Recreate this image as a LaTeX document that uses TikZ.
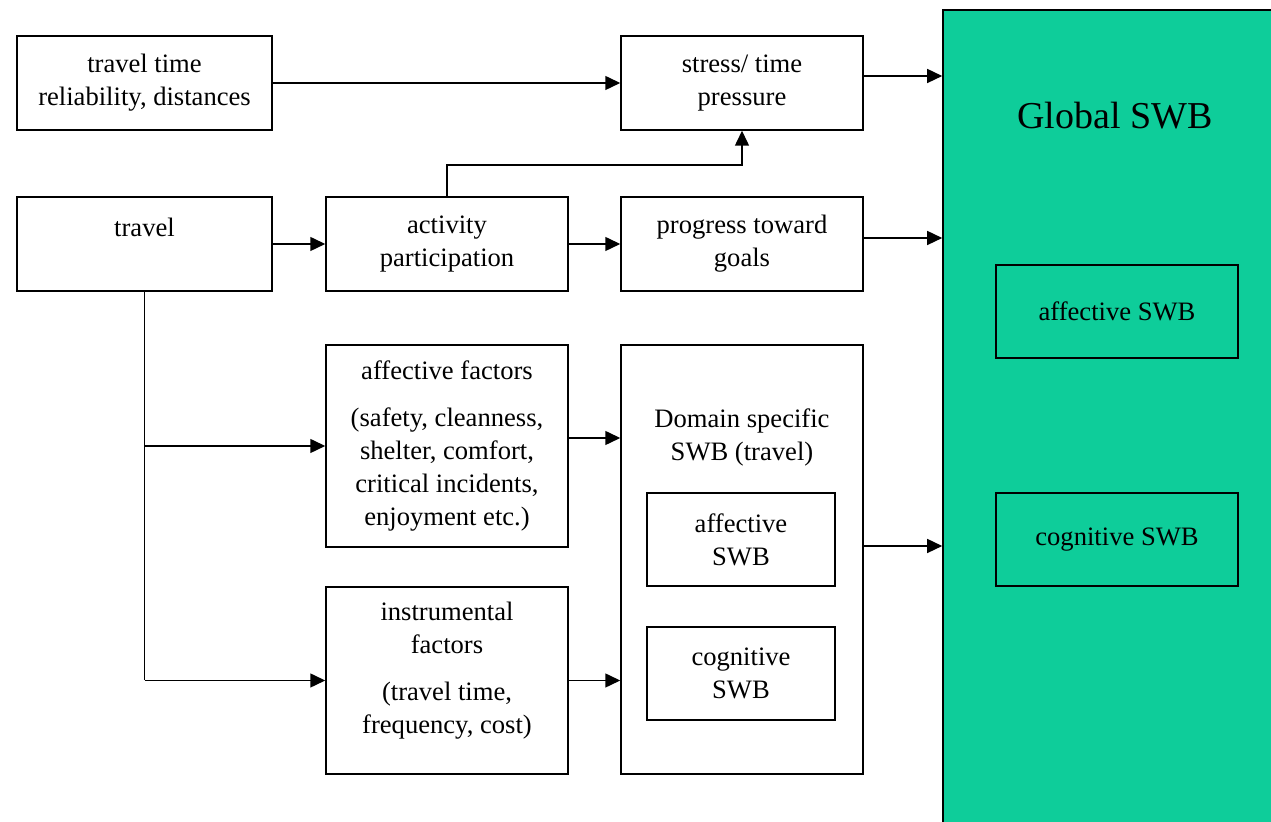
\documentclass[tikz,border=0pt]{standalone}
\usepackage{fontspec}
\setmainfont{Liberation Serif}
\usetikzlibrary{arrows.meta,positioning}
\definecolor{swbgreen}{RGB}{14,205,154}

\begin{document}
\begin{tikzpicture}[x=0.5pt,y=-0.5pt,
    box/.style={draw, line width=0.75pt, align=center, inner sep=0pt,
      font=\fontsize{13.3}{16.5}\selectfont},
    arr/.style={-{Triangle[length=7.5pt,width=7pt]}, line width=0.75pt}]
    \clip (0,0) rectangle (1271,822);
    % global box, runs off the page
    \node[draw, line width=0.8pt, fill=swbgreen, minimum width=178.5pt,
      minimum height=420pt, inner sep=0pt] (glob) at (1121.5,430) {};
    \node[font=\fontsize{19}{22}\selectfont] (globtxt) at (1115,116) {Global SWB};
    \node[box, minimum width=121pt, minimum height=46.5pt] (gaff) at (1117,311.5) {affective SWB};
    \node[box, minimum width=121pt, minimum height=46.5pt] (gcog) at (1117,539.5) {cognitive SWB};

    % left column
    \node[box, minimum width=127.5pt, minimum height=47pt] (ttr) at (144.5,83)
      {travel time\\reliability, distances};
    \node[box, minimum width=127.5pt, minimum height=47pt] (trav) at (144.5,244)
      {travel\\\phantom{x}};

    % middle column
    \node[box, minimum width=121pt, minimum height=47pt] (act) at (447,244)
      {activity\\participation};
    \node[box, minimum width=121pt, minimum height=101pt] (aff) at (447,446)
      {affective factors\\[7pt](safety, cleanness,\\shelter, comfort,\\critical incidents,\\enjoyment etc.)};
    \node[box, minimum width=121pt, minimum height=93.5pt] (inst) at (447,680.5)
      {instrumental\\factors\\[7pt](travel time,\\frequency, cost)\\[-4pt]\phantom{x}};

    % right column
    \node[box, minimum width=121pt, minimum height=47pt] (stress) at (742,83)
      {stress/ time\\pressure};
    \node[box, minimum width=121pt, minimum height=47pt] (prog) at (742,244)
      {progress toward\\goals};
    \node[box, minimum width=121pt, minimum height=214.5pt] (dom) at (742,559.5) {};
    \node[align=center, font=\fontsize{13.3}{16.5}\selectfont] (domtxt) at (742,437)
      {Domain specific\\SWB (travel)};
    \node[box, minimum width=94pt, minimum height=46.5pt] (daff) at (741,539.5)
      {affective\\SWB};
    \node[box, minimum width=94pt, minimum height=46.5pt] (dcog) at (741,673.5)
      {cognitive\\SWB};

    % connectors
    \draw[arr] (ttr) -- (stress);
    \draw[arr] (trav) -- (act);
    \draw[arr] (act) -- (prog);
    \draw[arr] (act.north) -- ++(0,-31) -| (stress.south);
    \draw[line width=0.75pt] (trav.south) -- (trav.south |- inst.west);
    \draw[arr] (trav.south |- aff.west) -- (aff.west);
    \draw[arr] (trav.south |- inst.west) -- (inst.west);
    \draw[arr] ([yshift=4pt]aff.east) -- ([yshift=4pt]aff.east -| dom.west);
    \draw[arr] (inst.east) -- (inst.east -| dom.west);
    \draw[arr] ([yshift=3.5pt]stress.east) -- ([yshift=3.5pt]stress.east -| glob.west);
    \draw[arr] ([yshift=3pt]prog.east) -- ([yshift=3pt]prog.east -| glob.west);
    \draw[arr] ([yshift=6.75pt]dom.east) -- ([yshift=6.75pt]dom.east -| glob.west);
\end{tikzpicture}
\end{document}
